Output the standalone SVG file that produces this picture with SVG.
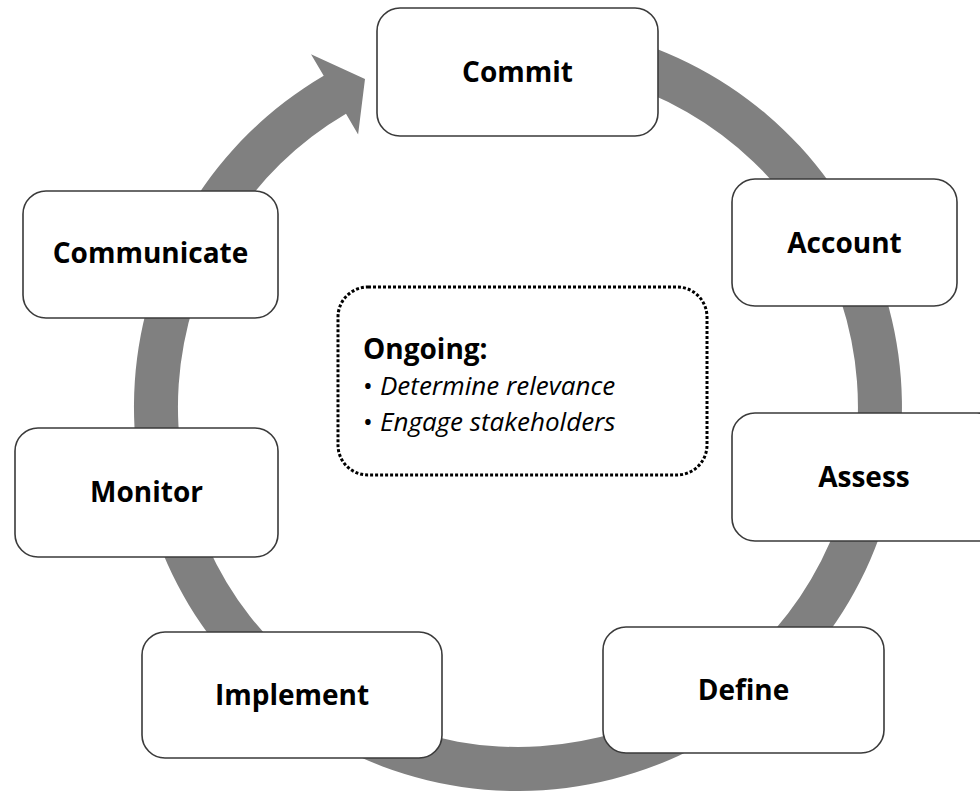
<svg xmlns="http://www.w3.org/2000/svg" width="980" height="792" viewBox="0 0 980 792">
  <style>
    .box { fill: #ffffff; stroke: #3a3a3a; stroke-width: 1.6; }
    .lbl { font-family: "Open Sans", "Noto Sans", "Liberation Sans", sans-serif; font-weight: bold; font-size: 28px; fill: #000000; text-anchor: middle; }
    .ring { fill: #808080; stroke: none; }
    .dotted { fill: #ffffff; stroke: #000000; stroke-width: 3; stroke-dasharray: 3 2; }
    .head { font-family: "Open Sans", "Noto Sans", "Liberation Sans", sans-serif; font-weight: bold; font-size: 28px; fill: #000000; }
    .item { font-family: "Open Sans", "Noto Sans", "Liberation Sans", sans-serif; font-size: 26px; fill: #000000; }
    .bul { font-style: normal; font-size: 26px; }
    .it { font-style: italic; }
  </style>
  <rect x="0" y="0" width="980" height="792" fill="#ffffff"/>
  <g id="connectors">
    <path class="ring" d="M 484.5,24.5 A 384 384 0 1 1 323.7,75.8 L 311.0,54.2 L 365.0,78.9 L 358.1,134.4 L 346.0,113.7 A 340 340 0 1 0 488.4,68.3 Z"/>
  </g>
  <g id="node-commit">
    <rect class="box" x="377" y="8" width="281" height="128" rx="23"/>
    <text class="lbl" x="517.5" y="82">Commit</text>
  </g>
  <g id="node-account">
    <rect class="box" x="732" y="179" width="225" height="127" rx="23"/>
    <text class="lbl" x="844.5" y="253">Account</text>
  </g>
  <g id="node-assess">
    <rect class="box" x="732" y="413" width="268" height="128" rx="23"/>
    <text class="lbl" x="864" y="487">Assess</text>
  </g>
  <g id="node-define">
    <rect class="box" x="603" y="627" width="281" height="126" rx="23"/>
    <text class="lbl" x="743.5" y="700">Define</text>
  </g>
  <g id="node-implement">
    <rect class="box" x="142" y="632" width="300" height="126" rx="23"/>
    <text class="lbl" x="292" y="705">Implement</text>
  </g>
  <g id="node-monitor">
    <rect class="box" x="15" y="428" width="263" height="129" rx="23"/>
    <text class="lbl" x="146.5" y="502">Monitor</text>
  </g>
  <g id="node-communicate">
    <rect class="box" x="23" y="191" width="255" height="127" rx="23"/>
    <text class="lbl" x="150.5" y="263">Communicate</text>
  </g>
  <g id="node-ongoing">
    <rect class="dotted" x="338" y="287" width="369" height="188" rx="30"/>
    <text class="head" x="363" y="359">Ongoing:</text>
    <text class="item" x="363" y="395"><tspan class="bul">•</tspan><tspan class="it" x="380">Determine relevance</tspan></text>
    <text class="item" x="363" y="431"><tspan class="bul">•</tspan><tspan class="it" x="380">Engage stakeholders</tspan></text>
  </g>
</svg>
